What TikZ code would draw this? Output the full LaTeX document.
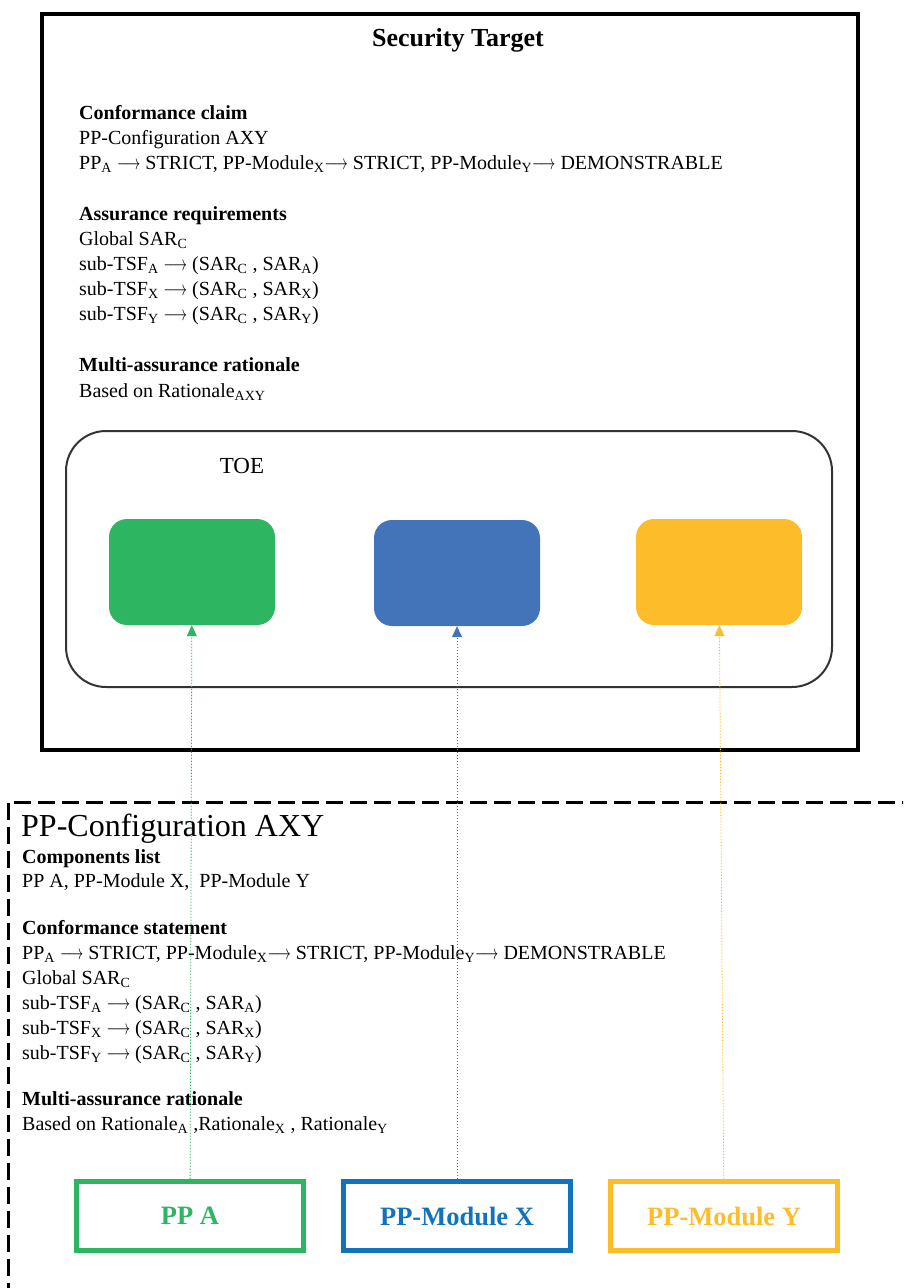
\documentclass[tikz,border=0pt]{standalone}
\usepackage{graphicx}
\usepackage{fontspec}
\setmainfont{Liberation Serif}
\usetikzlibrary{arrows.meta}
\definecolor{ppgreen}{HTML}{2EB562}
\definecolor{toeblue}{HTML}{4374BA}
\definecolor{ppblue}{HTML}{1273BD}
\definecolor{ppyellow}{HTML}{FDBD2A}
\definecolor{toegray}{HTML}{333333}
\newcommand{\subs}[1]{\textsubscript{#1}}
\newcommand{\toarrow}{\scalebox{0.7}[1]{$\longrightarrow$}}

\begin{document}
\begin{tikzpicture}[x=1pt,y=-1pt,
    txt/.style={inner sep=0pt, anchor=base west, align=left, font=\fontsize{20}{25}\selectfont},
    toepart/.style={rounded corners=18pt, minimum width=166pt, minimum height=106pt, inner sep=0pt},
    ppbox/.style={draw=#1, line width=5pt, minimum width=227pt, minimum height=69pt, text=#1, font=\fontsize{26.5}{30}\selectfont\bfseries},
    link/.style={draw=#1, line width=0.8pt, dash pattern=on 1.5pt off 1.5pt, -{Triangle[length=11pt,width=10pt]}}]
                \useasboundingbox (0,0) rectangle (903,1288);
                \clip (0,0) rectangle (903,1288);
                % security target (text nodes sit on their last line)
                \node (st) [draw, line width=4pt, minimum width=816pt, minimum height=736pt] at (450,382) {};
                \node (title) [anchor=base, font=\fontsize{26}{30}\selectfont\bfseries] at (458,46) {Security Target};
                \node (claim) [txt] at (79,169) {\textbf{Conformance claim}\\
                    PP-Configuration AXY\\
                    PP\subs{A} \toarrow{} STRICT, PP-Module\subs{X}\toarrow{} STRICT, PP-Module\subs{Y}\toarrow{} DEMONSTRABLE};
                \node (assur) [txt] at (79,320) {\textbf{Assurance requirements}\\
                    Global SAR\subs{C}\\
                    sub-TSF\subs{A} \toarrow{} (SAR\subs{C} , SAR\subs{A})\\
                    sub-TSF\subs{X} \toarrow{} (SAR\subs{C} , SAR\subs{X})\\
                    sub-TSF\subs{Y} \toarrow{} (SAR\subs{C} , SAR\subs{Y})};
                \node (ratio) [txt] at (79,397) {\textbf{Multi-assurance rationale}\\[1pt]
                    Based on Rationale\subs{AXY}};
                % toe
                \node (toe) [draw=toegray, line width=2pt, rounded corners=40pt, minimum width=766pt, minimum height=256pt] at (449,559) {};
                \node (toelabel) [font=\fontsize{23}{28}\selectfont] at (242,466) {TOE};
                \node (toeA) [toepart, fill=ppgreen] at (192,572) {};
                \node (toeX) [toepart, fill=toeblue] at (457,573) {};
                \node (toeY) [toepart, fill=ppyellow] at (719,572) {};
                % pp-configuration
                \draw [line width=3pt, dash pattern=on 17pt off 7pt] (8,1300) -- (8,802) -- (910,802);
                \node (conf) [inner sep=0pt, anchor=base west, font=\fontsize{32}{36}\selectfont] at (21,836) {PP-Configuration AXY};
                \node (comp) [txt] at (22,887) {\textbf{Components list}\\[-1pt]
                    PP A, PP-Module X, \ PP-Module Y};
                \node (stmt) [txt] at (22,1059) {\textbf{Conformance statement}\\
                    PP\subs{A} \toarrow{} STRICT, PP-Module\subs{X}\toarrow{} STRICT, PP-Module\subs{Y}\toarrow{} DEMONSTRABLE\\
                    Global SAR\subs{C}\\
                    sub-TSF\subs{A} \toarrow{} (SAR\subs{C} , SAR\subs{A})\\
                    sub-TSF\subs{X} \toarrow{} (SAR\subs{C} , SAR\subs{X})\\
                    sub-TSF\subs{Y} \toarrow{} (SAR\subs{C} , SAR\subs{Y})};
                \node (mratio) [txt] at (22,1130) {\textbf{Multi-assurance rationale}\\
                    Based on Rationale\subs{A} ,Rationale\subs{X} , Rationale\subs{Y}};
                \node (ppA) [ppbox=ppgreen] at (190,1216) {PP A};
                \node (ppX) [ppbox=ppblue] at (457,1216) {PP-Module X};
                \node (ppY) [ppbox=ppyellow] at (724,1216) {PP-Module Y};
                \draw [link=ppgreen] (ppA) -- (toeA);
                \draw [link=toeblue] (ppX) -- (toeX);
                \draw [link=ppyellow] (ppY) -- (toeY);
            \end{tikzpicture}
\end{document}
